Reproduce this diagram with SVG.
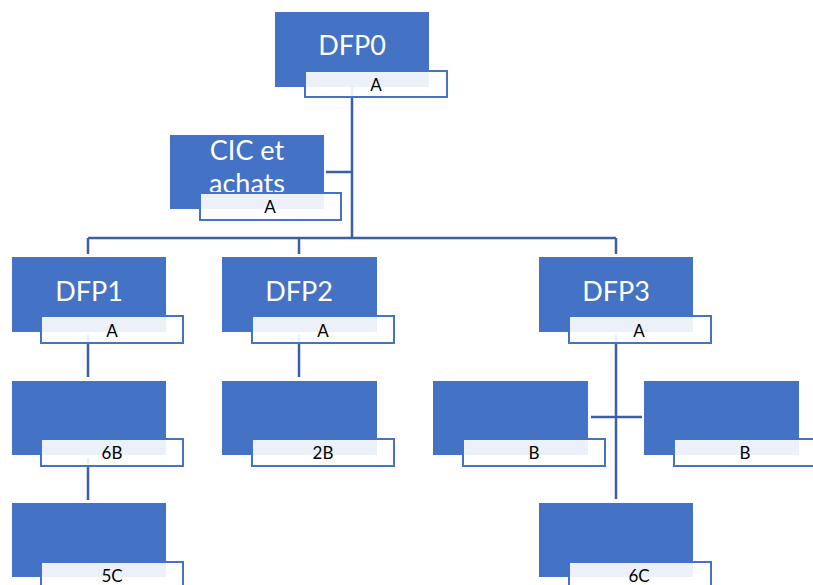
<svg xmlns="http://www.w3.org/2000/svg" width="813" height="585" viewBox="0 0 813 585">
<style>
.box{fill:#4472C4}
.lab{fill:#ffffff;fill-opacity:0.9;stroke:#4472C4;stroke-width:2}
.t{font-family:Lato,"Open Sans",sans-serif;font-size:27px;fill:#ffffff;text-anchor:middle}
.l{font-family:Lato,"Open Sans",sans-serif;font-size:17px;fill:#000000;text-anchor:middle}
.c{fill:none;stroke:#3B5FA6;stroke-width:2.5}
</style>
<rect width="813" height="585" fill="#ffffff"/>
<g id="connectors" class="c">
<path d="M352,87 V238"/>
<path d="M326,172 H352"/>
<path d="M88,238 H616"/>
<path d="M88,238 V254"/>
<path d="M299,238 V254"/>
<path d="M616,238 V254"/>
<path d="M88,335 V377"/>
<path d="M88,458 V500"/>
<path d="M299,335 V377"/>
<path d="M616,335 V499"/>
<path d="M591,417 H642"/>
</g>
<g id="dfp0">
<rect class="box" x="275" y="12" width="154" height="75"/>
<text class="t" x="352" y="55">DFP0</text>
<rect class="lab" x="305" y="71" width="142" height="26"/>
<text class="l" x="376" y="91">A</text>
</g>
<g id="cic">
<rect class="box" x="170" y="135" width="154" height="74"/>
<text class="t" x="247" y="160">CIC et</text>
<text class="t" x="247" y="193">achats</text>
<rect class="lab" x="200" y="193" width="141" height="27"/>
<text class="l" x="270" y="213">A</text>
</g>
<g id="dfp1">
<rect class="box" x="12" y="257" width="154" height="75"/>
<text class="t" x="89" y="301">DFP1</text>
<rect class="lab" x="41" y="316" width="142" height="27"/>
<text class="l" x="112" y="337">A</text>
</g>
<g id="dfp2">
<rect class="box" x="222" y="257" width="155" height="75"/>
<text class="t" x="299" y="301">DFP2</text>
<rect class="lab" x="252" y="316" width="142" height="27"/>
<text class="l" x="323" y="337">A</text>
</g>
<g id="dfp3">
<rect class="box" x="539" y="257" width="154" height="75"/>
<text class="t" x="616" y="301">DFP3</text>
<rect class="lab" x="569" y="316" width="142" height="27"/>
<text class="l" x="639" y="337">A</text>
</g>
<g id="n6b">
<rect class="box" x="12" y="381" width="154" height="74"/>
<rect class="lab" x="41" y="439" width="142" height="27"/>
<text class="l" x="112" y="459">6B</text>
</g>
<g id="n2b">
<rect class="box" x="222" y="381" width="155" height="74"/>
<rect class="lab" x="252" y="439" width="142" height="27"/>
<text class="l" x="323" y="459">2B</text>
</g>
<g id="nb1">
<rect class="box" x="433" y="381" width="155" height="74"/>
<rect class="lab" x="463" y="439" width="142" height="27"/>
<text class="l" x="534" y="459">B</text>
</g>
<g id="nb2">
<rect class="box" x="644" y="381" width="155" height="74"/>
<rect class="lab" x="674" y="439" width="142" height="27"/>
<text class="l" x="745" y="459">B</text>
</g>
<g id="n5c">
<rect class="box" x="12" y="503" width="154" height="74"/>
<rect class="lab" x="41" y="562" width="142" height="27"/>
<text class="l" x="112" y="582">5C</text>
</g>
<g id="n6c">
<rect class="box" x="539" y="503" width="154" height="74"/>
<rect class="lab" x="569" y="562" width="142" height="27"/>
<text class="l" x="639" y="582">6C</text>
</g>
</svg>
